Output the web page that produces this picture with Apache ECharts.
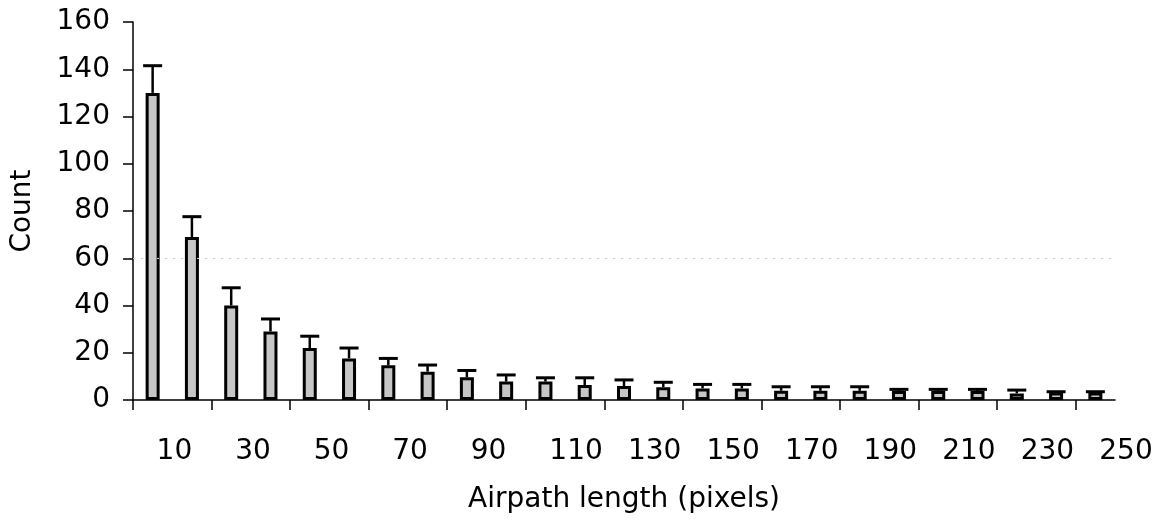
<!DOCTYPE html>
<html>
<head>
<meta charset="utf-8">
<script src="https://cdn.jsdelivr.net/npm/echarts@6/dist/echarts.min.js"></script>
<style>
html,body{margin:0;padding:0;background:#fff;}
#chart{width:1162px;height:525px;}
</style>
</head>
<body>
<div id="chart"></div>
<script>
// Histogram bins of airpath length (pixels)
const categories = ['0-10','10-20','20-30','30-40','40-50','50-60','60-70','70-80','80-90','90-100',
  '100-110','110-120','120-130','130-140','140-150','150-160','160-170','170-180','180-190','190-200',
  '200-210','210-220','220-230','230-240','240-250'];
// Mean counts
const counts = [130, 69, 40, 29, 22, 17.6, 14.7, 12, 9.6, 7.8, 7.8, 6.3, 5.9, 5.4, 4.9, 4.9, 3.9, 3.9, 3.9, 3.8, 3.8, 3.8, 2.8, 3.2, 3.2];
// Upper error (added to mean)
const errors = [11.5, 8.6, 7.5, 5.3, 5, 4.4, 2.9, 2.8, 2.9, 2.8, 1.6, 3.1, 2.6, 2.1, 1.7, 1.7, 1.7, 1.7, 1.7, 0.7, 0.7, 0.7, 1.4, 0.3, 0.3];
// x-axis tick positions (bin edges) and label values
const tickValues = [0, 20, 40, 60, 80, 100, 120, 140, 160, 180, 200, 220, 240];
const labelValues = [10, 30, 50, 70, 90, 110, 130, 150, 170, 190, 210, 230, 250];
// y-axis
const yMin = 0, yMax = 160, yStep = 20;

const FONT = 'DejaVu Sans';
const chart = echarts.init(document.getElementById('chart'), null, {renderer: 'canvas'});

const errData = categories.map((c, i) => [i, counts[i], counts[i] + errors[i]]);

chart.setOption({
  animation: false,
  backgroundColor: '#fff',
  grid: {left: 133, right: 47, top: 22, bottom: 125, containLabel: false},
  xAxis: [
    {
      type: 'category', data: categories, boundaryGap: true, show: false
    },
    {
      type: 'value', min: 0, max: 250, position: 'bottom',
      axisLine: {show: true, onZero: false, lineStyle: {color: '#000', width: 1.5}},
      axisTick: {show: true, inside: false, length: 10, customValues: tickValues, lineStyle: {color: '#000', width: 1.5}},
      axisLabel: {show: false},
      splitLine: {show: false}
    },
    {
      type: 'value', min: 4, max: 254, position: 'bottom',
      axisLine: {show: false},
      axisTick: {show: false},
      axisLabel: {
        show: true, customValues: labelValues, align: 'left', margin: 38,
        fontFamily: FONT, fontSize: 28, color: '#000'
      },
      splitLine: {show: false},
      name: 'Airpath length (pixels)', nameLocation: 'middle', nameGap: 86,
      nameTextStyle: {fontFamily: FONT, fontSize: 28, color: '#000'}
    }
  ],
  yAxis: {
    type: 'value', min: yMin, max: yMax, interval: yStep,
    axisLine: {show: true, lineStyle: {color: '#000', width: 1.5}},
    axisTick: {show: true, inside: false, length: 10, lineStyle: {color: '#000', width: 1.5}},
    axisLabel: {fontFamily: FONT, fontSize: 28, color: '#000', margin: 23},
    splitLine: {show: false},
    name: 'Count', nameLocation: 'middle', nameGap: 96, nameRotate: 90,
    nameTextStyle: {fontFamily: FONT, fontSize: 28, color: '#000'}
  },
  series: [
    {
      type: 'bar', xAxisIndex: 0, yAxisIndex: 0, data: counts, barWidth: 14,
      itemStyle: {color: '#c6c6c6', borderColor: '#000', borderWidth: 3},
      markLine: {
        silent: true, symbol: 'none', label: {show: false},
        lineStyle: {color: '#c8c8c8', type: [2, 6], width: 1},
        data: [{yAxis: 60}]
      },
      z: 2
    },
    {
      type: 'custom', xAxisIndex: 0, yAxisIndex: 0, data: errData, z: 3,
      renderItem: function (params, api) {
        const idx = api.value(0);
        const p0 = api.coord([idx, api.value(1)]);
        const p1 = api.coord([idx, api.value(2)]);
        const hw = 9.5;
        return {
          type: 'group',
          children: [
            {type: 'line', shape: {x1: p0[0], y1: p0[1], x2: p1[0], y2: p1[1]},
             style: {stroke: '#000', lineWidth: 2.5}},
            {type: 'line', shape: {x1: p1[0] - hw, y1: p1[1], x2: p1[0] + hw, y2: p1[1]},
             style: {stroke: '#000', lineWidth: 3}}
          ]
        };
      }
    }
  ]
});
</script>
</body>
</html>
